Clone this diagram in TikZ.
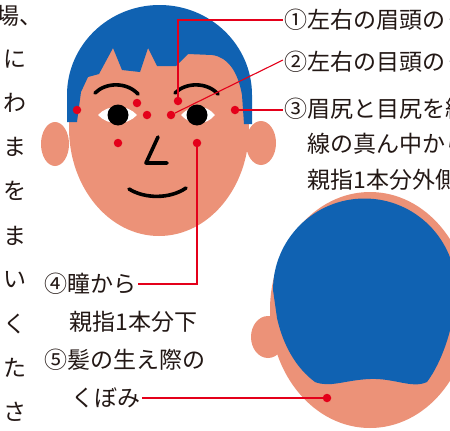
\documentclass[tikz,border=0pt]{standalone}
\usepackage{fontspec}
\newfontfamily\jp{Noto Sans CJK JP}
\definecolor{hair}{RGB}{16,98,178}
\definecolor{skin}{RGB}{236,146,120}
\definecolor{dotred}{RGB}{228,0,26}
\definecolor{ink}{RGB}{35,24,21}
\tikzset{dot/.style={circle,fill=dotred,inner sep=0pt,minimum size=8.5pt},
  leader/.style={draw=dotred,line width=1.1pt},
  lbl/.style={ink,font=\jp\fontsize{23}{36}\selectfont,inner sep=1.5pt,anchor=west},
  col/.style={ink,font=\jp\fontsize{23}{36}\selectfont,inner sep=0pt,anchor=east},
  feature/.style={black,line width=3.6pt,line cap=round,line join=round}}

\begin{document}
\begin{tikzpicture}[x=1pt,y=-1pt]
  \useasboundingbox (0,0) rectangle (450,431);
  \fill[white] (0,0) rectangle (450,431);
  \clip (0,0) rectangle (450,431);
  % text column on the left
  \node[col] (c0) at (43,16)  {場、};
  \node[col] (c1) at (27,59)  {に};
  \node[col] (c2) at (27,103) {わ};
  \node[col] (c3) at (27,147) {ま};
  \node[col] (c4) at (27,191) {を};
  \node[col] (c5) at (27,236) {ま};
  \node[col] (c6) at (27,280) {い};
  \node[col] (c7) at (27,324) {く};
  \node[col] (c8) at (27,368) {た};
  \node[col] (c9) at (27,412) {さ};
  % front face
  \begin{scope}
   \fill[skin] (55,144) ellipse[x radius=14,y radius=22];
   \fill[skin] (261,143) ellipse[x radius=15,y radius=22];
   \fill[skin] (159,128) ellipse[x radius=90,y radius=108];
   \fill[hair] (67,122) -- (67,95) arc[start angle=180,end angle=360,x radius=92.5,y radius=90]
     -- (252,124) -- (244,124) -- (242,95) .. controls (238,72) and (228,57) .. (212,55)
     -- (188,54) -- (176,66) -- (157,66) -- (148,48) -- (140,72) -- (122,70) -- (113,48)
     -- (99,74) -- (88,77) -- (81,92) -- (77,122) -- cycle;
   \draw[feature] (95,93) .. controls (106,82) and (127,82) .. (138,94);
   \draw[feature] (175,93) .. controls (186,82) and (207,82) .. (218,94);
   \fill[white] (98,115) .. controls (108,104) and (127,104) .. (137,115)
     .. controls (127,126) and (108,126) .. (98,115);
   \fill[white] (181,115) .. controls (191,104) and (206,104) .. (215,115)
     .. controls (206,126) and (191,126) .. (181,115);
   \fill[black] (118,115) circle(10.5);
   \fill[black] (197,115) circle(10.5);
   \draw[feature] (158,137) -- (146,163) -- (167,163);
   \draw[feature] (129,189) .. controls (145,199) and (170,199) .. (186,188);
  \end{scope}
  % back of the head
  \begin{scope}
   \fill[skin] (268,337) ellipse[x radius=17,y radius=21];
   \fill[skin] (370,310) ellipse[x radius=100,y radius=118];
   \fill[hair] (315,382) .. controls (296,368) and (283,345) .. (277,318) -- (273,290)
     arc[start angle=180,end angle=360,radius=91.5]
     .. controls (455,325) and (442,362) .. (427,382)
     .. controls (412,389) and (395,378) .. (370,379)
     .. controls (345,380) and (330,388) .. (315,382) -- cycle;
  \end{scope}
  % labels
  \node[lbl] (t1)  at (283,20)  {①左右の眉頭のくぼみ};
  \node[lbl] (t2)  at (283,62)  {②左右の目頭のくぼみ};
  \node[lbl] (t3)  at (283,109) {③眉尻と目尻を結ぶ};
  \node[lbl] (t3b) at (306,144) {線の真ん中から};
  \node[lbl] (t3c) at (306,180) {親指1本分外側};
  \node[lbl] (t4)  at (43,284)  {④瞳から};
  \node[lbl] (t4b) at (68,322)  {親指1本分下};
  \node[lbl] (t5)  at (43,360)  {⑤髪の生え際の};
  \node[lbl] (t5b) at (70,398)  {くぼみ};
  % points and leaders
  \node[dot] (p1) at (178,101) {};
  \node[dot] (p2) at (171,115) {};
  \node[dot] (p3) at (235,110) {};
  \node[dot] (p4) at (197,143) {};
  \node[dot] (p5) at (327,398) {};
  \node[dot] (q1) at (137,103) {};
  \node[dot] (q2) at (147,115) {};
  \node[dot] (q3) at (77,110)  {};
  \node[dot] (q4) at (118,143) {};
  \draw[leader] (p1) |- (t1.west);
  \draw[leader] (p2) -- ([yshift=2pt]t2.west);
  \draw[leader] (p3) -- (p3 -| t3.west);
  \draw[leader] (p4) |- (t4.east);
  \draw[leader] (t5b.east) -- (p5);
\end{tikzpicture}
\end{document}
